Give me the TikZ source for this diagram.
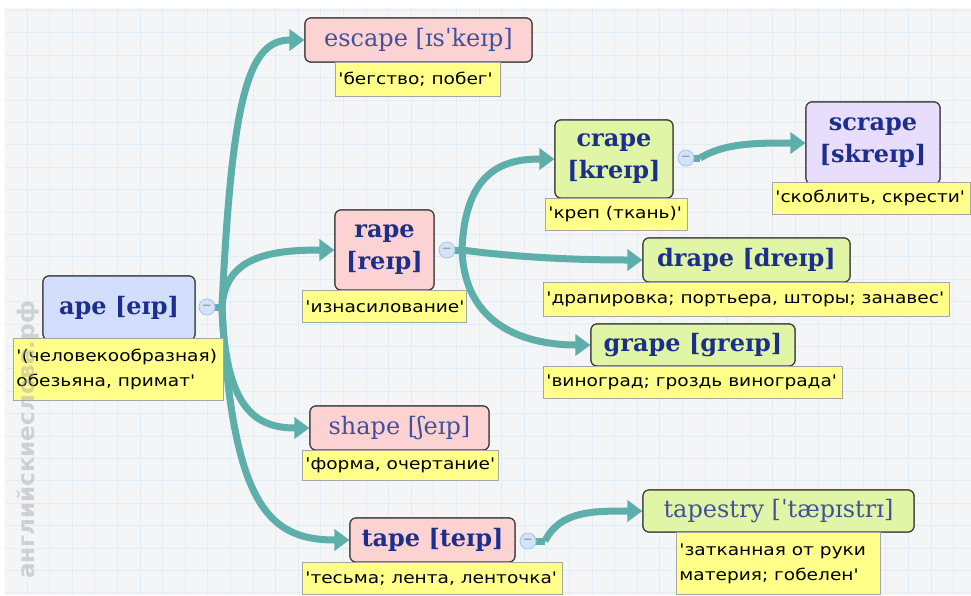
\documentclass[tikz,border=0pt]{standalone}
\usepackage{fontspec}
\setmainfont{DejaVu Serif}
\newfontfamily\trfont[FakeStretch=1.16]{DejaVu Sans}
\newfontfamily\wmfont{DejaVu Sans}
\usetikzlibrary{arrows.meta}
\definecolor{bgc}{HTML}{F3F5F7}
\definecolor{gridc}{HTML}{E2EDF5}
\definecolor{pinkc}{HTML}{FDD2D2}
\definecolor{bluec}{HTML}{D2DEFB}
\definecolor{greenc}{HTML}{E0F6A6}
\definecolor{lavc}{HTML}{E8DDFC}
\definecolor{yelc}{HTML}{FFFF8A}
\definecolor{titc}{HTML}{1C2F8C}
\definecolor{tit2c}{HTML}{44509C}
\definecolor{tealc}{HTML}{5EAEAA}
\definecolor{circc}{HTML}{D3E3F8}
\definecolor{circd}{HTML}{A9C4E6}
\newcommand\tl[2]{\makebox[#1][l]{#2}}
\tikzset{
  word/.style={draw=black!75, line width=1.2pt, rounded corners=6pt, align=center, inner sep=2pt, font=\fontsize{24}{29}\selectfont\bfseries, text=titc},
  wordlight/.style={word, font=\fontsize{24}{29}\selectfont, text=tit2c},
  word2/.style={word, font=\fontsize{24}{32}\selectfont\bfseries},
  trans/.style={draw=black!35, fill=yelc, line width=0.8pt, anchor=north west, align=left, inner xsep=3pt, inner ysep=2pt, font=\trfont\fontsize{16}{25}\selectfont, text=black},
  knob/.style={circle, draw=circd, fill=circc, line width=0.8pt, minimum size=16pt, inner sep=0pt, font=\wmfont\fontsize{12}{12}\selectfont, text=black!45},
  conn/.style={draw=tealc, line width=7pt},
  arr/.style={conn, -{Triangle[length=15pt 0 0, width=21pt 0 0]}},
}
\begin{document}
\begin{tikzpicture}[x=1pt,y=-1pt]
\useasboundingbox (0,0) rectangle (971,595);
% background grid
\fill[bgc] (5,8) rectangle (971,595);
\begin{scope}
\clip (5,8) rectangle (971,595);
\foreach \i in {0,...,43} { \draw[gridc, line width=1pt] ({4.5+22.6*\i},8) -- ({4.5+22.6*\i},595); }
\foreach \j in {0,...,26} { \draw[gridc, line width=1pt] (5,{10.5+22.4*\j}) -- (971,{10.5+22.4*\j}); }
\end{scope}

\coordinate (apej) at (222,307);
\coordinate (rapej) at (462,250);
\coordinate (crapej) at (700,158);
\coordinate (tapej) at (545,541);

% word nodes (positions for connectors)
\path
 node[word, minimum width=152pt, minimum height=64pt] (ape) at (119,308) {}
 node[word, minimum width=227pt, minimum height=44pt] (escape) at (418.5,40) {}
 node[word, minimum width=99pt, minimum height=80pt] (rape) at (384.5,250) {}
 node[word, minimum width=118pt, minimum height=78pt] (crape) at (614,159) {}
 node[word, minimum width=134pt, minimum height=82pt] (scrape) at (873,143) {}
 node[word, minimum width=207pt, minimum height=44pt] (drape) at (746.5,260) {}
 node[word, minimum width=204pt, minimum height=42pt] (grape) at (693,345) {}
 node[word, minimum width=179pt, minimum height=44pt] (shape) at (399.5,428) {}
 node[word, minimum width=165pt, minimum height=44pt] (tape) at (432.5,540) {}
 node[word, minimum width=271pt, minimum height=42pt] (tapestry) at (778.5,511) {};

% connectors
\draw[conn] (207,307) -- (apej);
\draw[arr] (apej) .. controls +(10,-215) and +(-55,0) .. (escape.west);
\draw[arr] (apej) .. controls +(3,-50) and +(-65,0) .. (rape.west);
\draw[arr] (apej) .. controls +(3,100) and +(-55,0) .. (shape.west);
\draw[arr] (apej) .. controls +(10,200) and +(-80,0) .. (tape.west);
\draw[conn] (447,250) -- (rapej);
\draw[arr] (rapej) .. controls +(3,-80) and +(-50,0) .. (crape.west);
\draw[arr] (rapej) .. controls +(60,8) and +(-60,0) .. (drape.west);
\draw[arr] (rapej) .. controls +(3,85) and +(-50,0) .. (grape.west);
\draw[conn] (686,158) -- (crapej);
\draw[arr] (crapej) .. controls +(25,-15) and +(-50,0) .. (scrape.west);
\draw[conn] (528,541) -- (tapej);
\draw[arr] (tapej) .. controls +(15,-30) and +(-50,0) .. (tapestry.west);

% word boxes with text
\node[word, fill=bluec, minimum width=152pt, minimum height=64pt] at (ape) {ape [eɪp]};
\node[wordlight, fill=pinkc, minimum width=227pt, minimum height=44pt] at (escape) {escape [ɪsˈkeɪp]};
\node[word2, fill=pinkc, minimum width=99pt, minimum height=80pt] at (rape) {rape\\{}[reɪp]};
\node[word2, fill=greenc, minimum width=118pt, minimum height=78pt] at (crape) {crape\\{}[kreɪp]};
\node[word2, fill=lavc, minimum width=134pt, minimum height=82pt] at (scrape) {scrape\\{}[skreɪp]};
\node[word, fill=greenc, minimum width=207pt, minimum height=44pt] at (drape) {drape [dreɪp]};
\node[word, fill=greenc, minimum width=204pt, minimum height=42pt] at (grape) {grape [greɪp]};
\node[wordlight, fill=pinkc, minimum width=179pt, minimum height=44pt] at (shape) {shape [ʃeɪp]};
\node[word, fill=pinkc, minimum width=165pt, minimum height=44pt] at (tape) {tape [teɪp]};
\node[wordlight, fill=greenc, minimum width=271pt, minimum height=42pt] at (tapestry) {tapestry [ˈtæpɪstrɪ]};

% knobs
\node[knob] (apek) at (207,307) {−};
\node[knob] (rapek) at (447,250) {−};
\node[knob] (crapek) at (686,158) {−};
\node[knob] (tapek) at (528,541) {−};

% translations
\node[trans, minimum height=62pt] (apet) at (13,338) {\tl{204pt}{'(человекообразная)}\\\tl{204pt}{обезьяна, примат'}};
\node[trans, minimum height=34pt] (escapet) at (335,62) {\tl{159pt}{'бегство; побег'}};
\node[trans, minimum height=32pt] (rapet) at (302,290) {\tl{158pt}{'изнасилование'}};
\node[trans, minimum height=32pt] (crapet) at (545,198) {\tl{136pt}{'креп (ткань)'}};
\node[trans, minimum height=32pt] (scrapet) at (772,182) {\tl{192pt}{'скоблить, скрести'}};
\node[trans, minimum height=34pt] (drapet) at (543,282) {\tl{400pt}{'драпировка; портьера, шторы; занавес'}};
\node[trans, minimum height=32pt] (grapet) at (543,366) {\tl{293pt}{'виноград; гроздь винограда'}};
\node[trans, minimum height=30pt] (shapet) at (302,450) {\tl{190pt}{'форма, очертание'}};
\node[trans, minimum height=32pt] (tapet) at (302,562) {\tl{254pt}{'тесьма; лента, ленточка'}};
\node[trans, minimum height=62pt] (tapestryt) at (676,532) {\tl{198pt}{'затканная от руки}\\\tl{198pt}{материя; гобелен'}};

% watermark
\node[rotate=90, text=black!35, opacity=0.45, font=\wmfont\bfseries\fontsize{23}{23}\selectfont] (wm) at (28,440) {английскиеслова.рф};
\end{tikzpicture}
\end{document}
